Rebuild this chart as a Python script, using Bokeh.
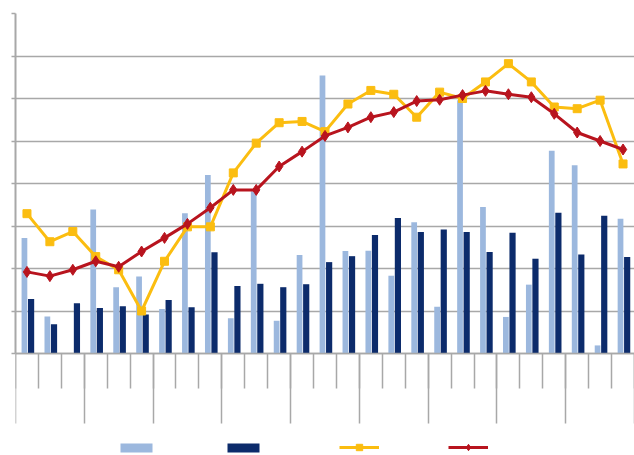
from bokeh.plotting import figure
from bokeh.models import ColumnDataSource, FixedTicker, Legend, LegendItem, Range1d, LinearAxis
from bokeh.core.properties import value
from bokeh.embed import file_html
from bokeh.resources import INLINE

# ---- data (value units = gridline steps x10) ----
categories = [str(i) for i in range(1, 28)]
series_light = [27.2, 8.7, 0.0, 33.9, 15.6, 18.1, 10.5, 33.0, 42.0, 8.3, 38.2, 7.7, 23.2, 65.4,
                24.1, 24.2, 18.3, 30.9, 11.0, 59.6, 34.5, 8.6, 16.2, 47.7, 44.3, 1.9, 31.7]
series_navy = [12.8, 6.9, 11.8, 10.7, 11.1, 9.2, 12.6, 10.9, 23.8, 15.9, 16.4, 15.6, 16.3, 21.5,
               22.9, 27.9, 31.9, 28.6, 29.2, 28.6, 23.9, 28.4, 22.3, 33.1, 23.3, 32.4, 22.7]
series_yellow = [32.9, 26.3, 28.7, 22.8, 19.7, 10.0, 21.7, 29.8, 29.8, 42.5, 49.5, 54.3, 54.6, 52.2,
                 58.7, 61.9, 61.0, 55.6, 61.5, 60.0, 63.9, 68.2, 63.9, 58.0, 57.6, 59.6, 44.6]
series_red = [19.2, 18.2, 19.7, 21.7, 20.4, 24.0, 27.2, 30.5, 34.3, 38.5, 38.5, 44.0, 47.5, 51.2,
              53.2, 55.6, 56.8, 59.4, 59.7, 60.8, 61.8, 61.0, 60.3, 56.4, 52.0, 50.0, 48.0]
series_names = [" ", " ", " ", " "]
y_ticks = [0, 10, 20, 30, 40, 50, 60, 70, 80]
y_floor = -24  # room under the baseline for the category ticks and the legend
group_size = 3

n = len(categories)
xc = [i + 0.5 for i in range(n)]
src = ColumnDataSource(dict(
    x=xc,
    xa=[v - 0.11 for v in xc],
    xb=[v + 0.18 for v in xc],
    a=series_light, b=series_navy, c=series_yellow, d=series_red,
))

GREY = "#a8a8a8"
LIGHT = "#9cb8de"
NAVY = "#0c2b6b"
YELLOW = "#fbbd10"
RED = "#b8141e"

p = figure(width=634, height=455, x_range=Range1d(0, n), y_range=Range1d(y_floor, y_ticks[-1]),
           output_backend="svg", toolbar_location=None,
           min_border_left=15, min_border_right=0, min_border_top=13, min_border_bottom=0)
p.outline_line_color = None
p.background_fill_color = "white"
p.border_fill_color = "white"

p.xgrid.visible = False
p.ygrid.ticker = FixedTicker(ticks=y_ticks)
p.ygrid.grid_line_color = GREY
p.ygrid.grid_line_width = 1.5

# category axis on the baseline: short ticks at every category boundary
xa = p.xaxis[0]
xa.fixed_location = 0
xa.ticker = FixedTicker(ticks=[], minor_ticks=list(range(0, n + 1)))
xa.axis_line_color = GREY
xa.axis_line_width = 1.5
xa.major_tick_out = 35
xa.major_tick_in = 0
xa.minor_tick_line_color = GREY
xa.minor_tick_line_width = 1.5
xa.minor_tick_out = 35
xa.minor_tick_in = 0
xa.major_label_standoff = 0

# long ticks at every group boundary
xa2 = LinearAxis(fixed_location=0,
                 ticker=FixedTicker(ticks=[], minor_ticks=list(range(0, n + 1, group_size))),
                 axis_line_color=None, major_tick_out=70, major_tick_in=0,
                 minor_tick_line_color=GREY, minor_tick_line_width=1.5,
                 minor_tick_out=70, minor_tick_in=0, major_label_standoff=0)
p.add_layout(xa2, "below")

ya = p.yaxis[0]
ya.bounds = (y_ticks[0], y_ticks[-1])
ya.ticker = FixedTicker(ticks=[], minor_ticks=y_ticks)
ya.axis_line_color = GREY
ya.axis_line_width = 2
ya.major_tick_out = 4
ya.major_tick_in = 0
ya.minor_tick_line_color = GREY
ya.minor_tick_line_width = 1.5
ya.minor_tick_out = 4
ya.minor_tick_in = 0
ya.major_label_standoff = 0

r_a = p.vbar(x="xa", top="a", width=0.25, bottom=0, source=src, fill_color=LIGHT, line_color=None)
r_b = p.vbar(x="xb", top="b", width=0.27, bottom=0, source=src, fill_color=NAVY, line_color=None)

r_c1 = p.line(x="x", y="c", source=src, line_color=YELLOW, line_width=3)
r_c2 = p.scatter(x="x", y="c", source=src, marker="square", size=8, fill_color=YELLOW, line_color=YELLOW)
r_d1 = p.line(x="x", y="d", source=src, line_color=RED, line_width=3)
r_d2 = p.scatter(x="x", y="d", source=src, marker="diamond", size=11, fill_color=RED, line_color=RED)

common = dict(orientation="horizontal", padding=0, spacing=0, margin=0, label_standoff=0,
              label_text_font_size="7px", border_line_color=None, background_fill_alpha=0)

legend_bars = Legend(items=[
    LegendItem(label=value(series_names[0]), renderers=[r_a]),
    LegendItem(label=value(series_names[1]), renderers=[r_b]),
], location=(101, 2), glyph_width=40, glyph_height=11, label_width=67, **common)
p.add_layout(legend_bars, "center")

legend_lines = Legend(items=[
    LegendItem(label=value(series_names[2]), renderers=[r_c1, r_c2]),
    LegendItem(label=value(series_names[3]), renderers=[r_d1, r_d2]),
], location=(324, 0), glyph_width=40, glyph_height=16, label_width=69, **common)
p.add_layout(legend_lines, "center")

open("out.html", "w").write(file_html(p, INLINE))
